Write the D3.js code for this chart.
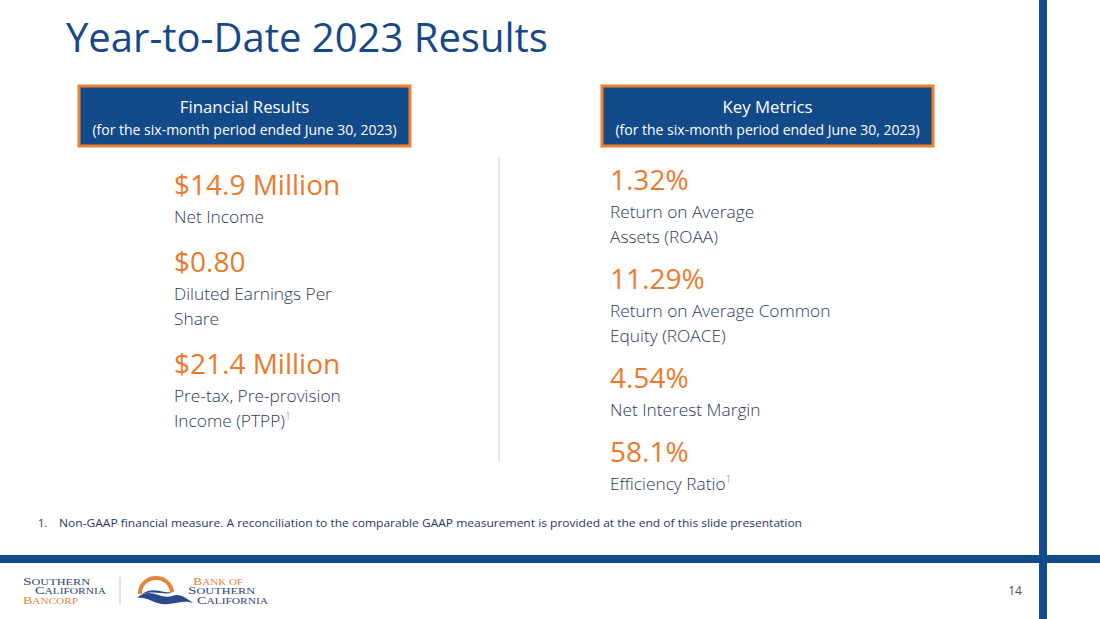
<!DOCTYPE html>
<meta charset="utf-8">
<head>
  <script src="https://cdn.jsdelivr.net/npm/d3@7/dist/d3.min.js"></script>
  <style>
    body { margin: 0; background: #fff; }
    svg { display: block; font-family: "Open Sans", "Noto Sans", sans-serif; }
  </style>
</head>
<body>
<script>

// Textos del slide
var titulo = "Year-to-Date 2023 Results";
var cajas = ["Financial Results", "Key Metrics"];
var periodo = "(for the six-month period ended June 30, 2023)";

// Columna izquierda: resultados financieros
var finValores = ["$14.9 Million", "$0.80", "$21.4 Million"];
var finEtiquetas = [["Net Income"], ["Diluted Earnings Per", "Share"], ["Pre-tax, Pre-provision", "Income (PTPP)"]];
var finNota = [false, false, true];

// Columna derecha: métricas clave
var kmValores = ["1.32%", "11.29%", "4.54%", "58.1%"];
var kmEtiquetas = [["Return on Average", "Assets (ROAA)"], ["Return on Average Common", "Equity (ROACE)"], ["Net Interest Margin"], ["Efficiency Ratio"]];
var kmNota = [false, false, false, true];

var nota = "Non-GAAP financial measure. A reconciliation to the comparable GAAP measurement is provided at the end of this slide presentation";
var pagina = "14";

// Colores
var azul = "#134a89", naranjo = "#ec7a2a", texto = "#2b3b5a";

var W = 1100, H = 619;

var svg = d3.select("body").append("svg")
  .attr("width", W).attr("height", H);

// barras de marco
svg.append("rect").attr("x", 1039).attr("y", 0).attr("width", 8).attr("height", H).attr("fill", azul);
svg.append("rect").attr("x", 0).attr("y", 555).attr("width", W).attr("height", 8).attr("fill", azul);

// titulo
svg.append("text").attr("x", 66).attr("y", 52)
  .attr("font-size", 40).attr("fill", "#17488a")
  .text(titulo);

// cajas de encabezado
var xCaja = d3.scaleOrdinal().domain(cajas).range([79, 602]);
var g = svg.selectAll("g.caja").data(cajas).enter().append("g")
  .attr("transform", function(d){ return "translate(" + xCaja(d) + ",86)"; });
g.append("rect").attr("width", 331).attr("height", 60)
  .attr("fill", azul).attr("stroke", "#ee802e").attr("stroke-width", 3);
g.append("text").attr("x", 165.5).attr("y", 27).attr("text-anchor", "middle")
  .attr("fill", "#fff").attr("font-size", 16.8).text(function(d){ return d; });
g.append("text").attr("x", 165.5).attr("y", 49).attr("text-anchor", "middle")
  .attr("fill", "#fff").attr("font-size", 14).text(periodo);

// separador vertical
svg.append("line").attr("x1", 499).attr("x2", 499).attr("y1", 157).attr("y2", 462)
  .attr("stroke", "#cfcfcf").attr("stroke-width", 1);

// dibuja una columna de bloques valor + etiqueta
function columna(x, y0, gap, valores, etiquetas, notas) {
  var y = y0;
  valores.forEach(function(v, i){
    svg.append("text").attr("x", x).attr("y", y)
      .attr("font-size", 28).attr("fill", naranjo).text(v);
    var yy = y + 28;
    etiquetas[i].forEach(function(l, j){
      var t = svg.append("text").attr("x", x).attr("y", yy)
        .attr("font-size", 17.3).attr("fill", texto).attr("font-weight", 300).text(l);
      if (notas[i] && j == etiquetas[i].length - 1) {
        t.append("tspan").attr("dy", -7).attr("font-size", 10).attr("fill", "#6f7f9a").text("1");
      }
      yy += 25;
    });
    y = yy - 25 + gap;
  });
}

columna(174, 195, 49, finValores, finEtiquetas, finNota);
columna(610, 190, 46, kmValores, kmEtiquetas, kmNota);

// nota al pie
svg.append("text").attr("x", 38).attr("y", 527).attr("font-size", 11).attr("fill", "#1f3864").text("1.");
svg.append("text").attr("x", 59).attr("y", 527).attr("font-size", 11).attr("fill", "#1f3864")
  .attr("textLength", 743).attr("lengthAdjust", "spacingAndGlyphs").text(nota);

// numero de pagina
svg.append("text").attr("x", 1015).attr("y", 595).attr("text-anchor", "middle")
  .attr("font-size", 12).attr("fill", "#44546a").text(pagina);

// logo (aproximado), letras en versalitas
var logo = svg.append("g").attr("font-family", "'Liberation Serif', 'DejaVu Serif', serif");
function lineaLogo(x, y, txt, color, len) {
  var t = logo.append("text").attr("x", x).attr("y", y).attr("fill", color)
    .attr("font-size", 8).attr("textLength", len).attr("lengthAdjust", "spacingAndGlyphs");
  t.append("tspan").attr("font-size", 10).text(txt[0]);
  t.append("tspan").text(txt.slice(1));
}
lineaLogo(23, 585, "SOUTHERN", "#2e3f78", 67);
lineaLogo(35, 594, "CALIFORNIA", "#2e3f78", 71);
lineaLogo(23, 604, "BANCORP", "#e8843a", 55);
logo.append("line").attr("x1", 120).attr("x2", 120).attr("y1", 577).attr("y2", 605)
  .attr("stroke", "#c8c8c8");
logo.append("path").attr("d", "M140,594 A16,15 0 1 1 172,592")
  .attr("fill", "none").attr("stroke", "#e8843a").attr("stroke-width", 4);
logo.append("path")
  .attr("d", "M137,598 C150,586 160,600 172,596 C180,593 186,598 193,603 C184,600 178,603 168,604 C156,606 148,596 137,598 Z")
  .attr("fill", "#2b4a8c");
logo.append("path")
  .attr("d", "M142,594 C154,586 162,594 172,592 C166,596 158,590 142,594 Z")
  .attr("fill", "#2b4a8c");
lineaLogo(193, 585, "BANK OF", "#e8843a", 50);
lineaLogo(188, 594, "SOUTHERN", "#2e3f78", 67);
lineaLogo(197, 604, "CALIFORNIA", "#2e3f78", 71);

</script>
</body>
